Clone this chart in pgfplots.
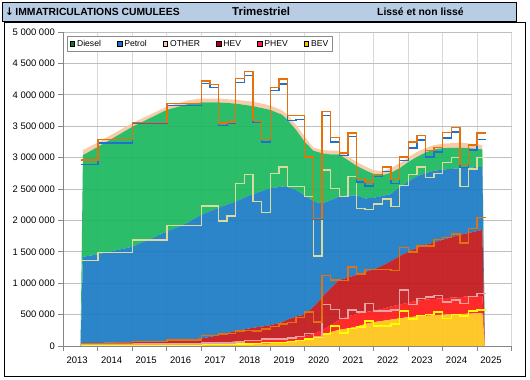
\documentclass[border=0pt]{standalone}
\usepackage{fontspec}
\setmainfont{Liberation Sans}
\newfontfamily\djv{DejaVu Sans}
\usepackage{pgfplots}
\pgfplotsset{compat=1.18}
\usepackage{pgfplotstable}

\definecolor{hdr}{HTML}{B8CCE4}
\definecolor{cBEV}{HTML}{FFC41A}
\definecolor{cPHEV}{HTML}{FF1A1A}
\definecolor{cHEV}{HTML}{C2181C}
\definecolor{cPetrol}{HTML}{1C7CC4}
\definecolor{cDiesel}{HTML}{1BB85E}
\definecolor{cOther}{HTML}{F9C8A2}
\definecolor{lDiesel}{HTML}{1B7A1B}
\definecolor{lPetrol}{HTML}{1F70B8}
\definecolor{lOther}{HTML}{F8C6A8}
\definecolor{lHEV}{HTML}{B0000F}
\definecolor{lPHEV}{HTML}{FF1A4A}
\definecolor{lBEV}{HTML}{FFC000}
\definecolor{sTot}{HTML}{E8700A}
\definecolor{sDie}{HTML}{1F72CC}
\definecolor{sPet}{HTML}{DADA9C}
\definecolor{sHEV}{HTML}{E07212}
\definecolor{sPHEV}{HTML}{E8A4A4}
\definecolor{sBEV}{HTML}{FFFF00}
\definecolor{hgrid}{HTML}{BFBFBF}
\definecolor{vgrid}{HTML}{D9D9D9}
\definecolor{axgray}{HTML}{868686}
\definecolor{legbox}{HTML}{8C8C8C}

% smoothed series (millions), stacked: BEV, PHEV, HEV, Petrol, Diesel, OTHER
\pgfplotstableread{
t BEV PHEV HEV Petrol Diesel Other
2013.50 0 0 0 0 0 0
2013.57 0.005 0.025 0.02 1.37 1.62 0.08
2014.00 0.005 0.025 0.02 1.41 1.71 0.07
2015.00 0.008 0.027 0.025 1.52 1.91 0.06
2016.00 0.01 0.03 0.04 1.74 1.94 0.05
2016.60 0.015 0.03 0.055 1.86 1.89 0.06
2017.00 0.02 0.03 0.07 1.97 1.79 0.06
2017.50 0.025 0.035 0.11 2.03 1.68 0.06
2018.00 0.03 0.04 0.17 2.06 1.56 0.06
2018.50 0.035 0.05 0.205 2.13 1.40 0.07
2019.00 0.04 0.06 0.23 2.18 1.25 0.07
2019.35 0.06 0.06 0.26 2.16 1.14 0.07
2019.50 0.07 0.06 0.29 2.11 1.07 0.08
2019.75 0.08 0.06 0.33 2.01 0.96 0.08
2020.00 0.10 0.06 0.34 1.90 0.85 0.08
2020.25 0.12 0.07 0.43 1.68 0.81 0.05
2020.50 0.17 0.08 0.52 1.50 0.80 0.05
2020.75 0.22 0.11 0.59 1.40 0.73 0.06
2021.00 0.26 0.16 0.63 1.33 0.67 0.06
2021.25 0.28 0.19 0.62 1.31 0.56 0.06
2021.50 0.31 0.20 0.62 1.27 0.47 0.06
2021.75 0.35 0.19 0.64 1.17 0.45 0.06
2022.00 0.38 0.18 0.66 1.14 0.38 0.06
2022.25 0.40 0.19 0.69 1.11 0.33 0.06
2022.50 0.42 0.21 0.72 1.07 0.34 0.07
2022.75 0.44 0.22 0.77 1.10 0.30 0.08
2023.00 0.46 0.23 0.81 1.12 0.31 0.07
2023.25 0.47 0.25 0.84 1.14 0.31 0.08
2023.50 0.48 0.26 0.87 1.14 0.33 0.07
2023.75 0.49 0.26 0.90 1.14 0.34 0.07
2024.00 0.50 0.26 0.93 1.12 0.34 0.07
2024.50 0.51 0.27 0.99 1.06 0.33 0.08
2025.00 0.52 0.28 1.03 1.02 0.29 0.07
2025.15 0.52 0.28 1.05 1.00 0.28 0.07
2025.22 0 0 0 0 0 0
}\areas

% non-smoothed cumulative levels (millions), step lines
\pgfplotstableread{
t Tot Die Pet HEV PHEV BEV
2013.50 2.96 2.89 1.36 0.04 0.02 0.003
2014.00 3.29 3.23 1.49 0.04 0.025 0.003
2015.00 3.56 3.54 1.69 0.07 0.03 0.005
2016.00 3.86 3.83 1.92 0.095 0.035 0.008
2017.00 4.22 4.18 2.23 0.165 0.045 0.02
2017.25 4.16 4.12 2.23 0.165 0.045 0.02
2017.50 3.55 3.51 1.99 0.19 0.045 0.025
2017.75 3.57 3.55 2.07 0.20 0.045 0.025
2018.00 4.26 4.20 2.59 0.24 0.065 0.03
2018.25 4.37 4.31 2.73 0.25 0.085 0.035
2018.50 3.59 3.56 2.30 0.24 0.085 0.04
2018.75 3.29 3.25 2.13 0.27 0.11 0.06
2019.00 4.12 4.07 2.75 0.31 0.11 0.06
2019.25 4.25 4.17 2.85 0.35 0.11 0.06
2019.50 3.67 3.59 2.54 0.37 0.13 0.07
2019.75 3.67 3.61 2.54 0.45 0.15 0.085
2020.00 3.01 3.00 2.38 0.54 0.20 0.11
2020.25 2.03 2.01 1.43 0.38 0.15 0.14
2020.50 3.73 3.67 2.80 1.12 0.66 0.19
2020.75 3.32 3.25 2.51 1.05 0.58 0.32
2021.00 3.07 3.03 2.38 1.04 0.44 0.21
2021.25 3.39 3.34 2.70 1.26 0.57 0.28
2021.50 2.67 2.61 2.19 1.15 0.54 0.30
2021.75 2.61 2.55 2.17 1.22 0.68 0.40
2022.00 2.73 2.70 2.26 1.22 0.56 0.32
2022.25 2.85 2.78 2.34 1.22 0.56 0.32
2022.50 2.65 2.59 2.22 1.20 0.57 0.35
2022.75 3.01 2.95 2.56 1.57 0.89 0.56
2023.00 3.25 3.15 2.73 1.50 0.66 0.43
2023.25 3.35 3.28 2.85 1.59 0.76 0.49
2023.50 3.11 3.01 2.68 1.59 0.78 0.50
2023.75 3.16 3.09 2.75 1.70 0.80 0.54
2024.00 3.40 3.31 2.92 1.73 0.70 0.44
2024.25 3.48 3.41 3.00 1.78 0.73 0.50
2024.50 2.89 2.84 2.54 1.64 0.68 0.48
2024.75 3.20 3.12 2.82 1.87 0.79 0.56
2025.00 3.39 3.29 3.00 2.05 0.84 0.57
2025.25 3.39 3.29 3.00 2.05 0.84 0.57
}\steps

\pgfplotsset{frame/.style={
  at={(63.3bp,34bp)}, anchor=south west,
  scale only axis, width=448.4bp, height=314bp,
  xmin=2013, xmax=2026, ymin=0, ymax=5}}

\begin{document}
\begin{tikzpicture}
\path[use as bounding box] (0,0) rectangle (530bp,380bp);
\fill[white] (0,0) rectangle (530bp,380bp);
% chart frame
\draw[black, line width=0.9bp] (4.5bp,3.5bp) rectangle (525.5bp,358bp);
% header bar
\filldraw[fill=hdr, draw=black, line width=0.9bp] (2.7bp,377.5bp) rectangle (516bp,359bp);
\node[anchor=west, inner sep=0pt, font=\bfseries\fontsize{10.4}{12}\selectfont] at (5bp,368bp) {{\djv\bfseries\fontsize{10.5}{12}\selectfont ↓}\kern1.5bp IMMATRICULATIONS CUMULEES};
\node[anchor=west, inner sep=0pt, font=\bfseries\fontsize{11.5}{13}\selectfont] at (232bp,368.5bp) {Trimestriel};
\node[anchor=west, inner sep=0pt, font=\bfseries\fontsize{10.4}{12}\selectfont] at (377bp,368bp) {Lissé et non lissé};

\begin{axis}[frame,
  axis lines*=left,
  axis line style={draw=axgray, line width=0.8bp},
  tick align=outside,
  tick style={draw=axgray, line width=0.8bp},
  major tick length=5bp,
  xtick={2013,2014,...,2026}, xticklabels={},
  extra x ticks={2013.4,2014.4,2015.4,2016.4,2017.4,2018.4,2019.4,2020.4,2021.4,2022.4,2023.4,2024.4,2025.4},
  extra x tick labels={2013,2014,2015,2016,2017,2018,2019,2020,2021,2022,2023,2024,2025},
  extra x tick style={major tick length=0pt, grid=none, xticklabel style={yshift=-7bp}},
  ytick={0,0.5,...,5},
  yticklabels={0,500 000,1 000 000,1 500 000,2 000 000,2 500 000,3 000 000,3 500 000,4 000 000,4 500 000,5 000 000},
  ticklabel style={font=\fontsize{9.5}{10}\selectfont},
  xmajorgrids, ymajorgrids,
  x grid style={draw=vgrid, line width=0.9bp},
  y grid style={draw=hgrid, line width=0.9bp},
  stack plots=y,
]
\addplot[draw=none, fill=cBEV, fill opacity=0.93] table[x=t,y=BEV]{\areas} \closedcycle;
\addplot[draw=none, fill=cPHEV, fill opacity=0.93] table[x=t,y=PHEV]{\areas} \closedcycle;
\addplot[draw=none, fill=cHEV, fill opacity=0.93] table[x=t,y=HEV]{\areas} \closedcycle;
\addplot[draw=none, fill=cPetrol, fill opacity=0.93] table[x=t,y=Petrol]{\areas} \closedcycle;
\addplot[draw=none, fill=cDiesel, fill opacity=0.93] table[x=t,y=Diesel]{\areas} \closedcycle;
\addplot[draw=none, fill=cOther, fill opacity=0.93] table[x=t,y=Other]{\areas} \closedcycle;
\end{axis}

\begin{axis}[frame, hide axis,
  legend columns=6,
  legend image code/.code={\fill[#1] (0bp,-2.3bp) rectangle (4.6bp,2.3bp);},
  legend style={at={(0.009,0.987)}, anchor=north west, draw=legbox, line width=0.8bp, fill=white,
    font=\fontsize{8.6}{9}\selectfont, inner xsep=2bp, inner ysep=1.5bp,
    /tikz/every even column/.append style={column sep=14bp}},
]
\addplot[const plot, sBEV, line width=1.45bp, forget plot] table[x=t,y=BEV]{\steps};
\addplot[const plot, sPHEV, line width=1.45bp, forget plot] table[x=t,y=PHEV]{\steps};
\addplot[const plot, sHEV, line width=1.45bp, forget plot] table[x=t,y=HEV]{\steps};
\addplot[const plot, sPet, line width=1.45bp, forget plot] table[x=t,y=Pet]{\steps};
\addplot[const plot, sDie, line width=1.45bp, forget plot] table[x=t,y=Die]{\steps};
\addplot[const plot, sTot, line width=1.45bp, forget plot] table[x=t,y=Tot]{\steps};

\addlegendimage{fill=lDiesel}\addlegendentry{Diesel}
\addlegendimage{fill=lPetrol}\addlegendentry{Petrol}
\addlegendimage{fill=lOther}\addlegendentry{OTHER}
\addlegendimage{fill=lHEV}\addlegendentry{HEV}
\addlegendimage{fill=lPHEV}\addlegendentry{PHEV}
\addlegendimage{fill=lBEV}\addlegendentry{BEV}
\end{axis}
\end{tikzpicture}
\end{document}
